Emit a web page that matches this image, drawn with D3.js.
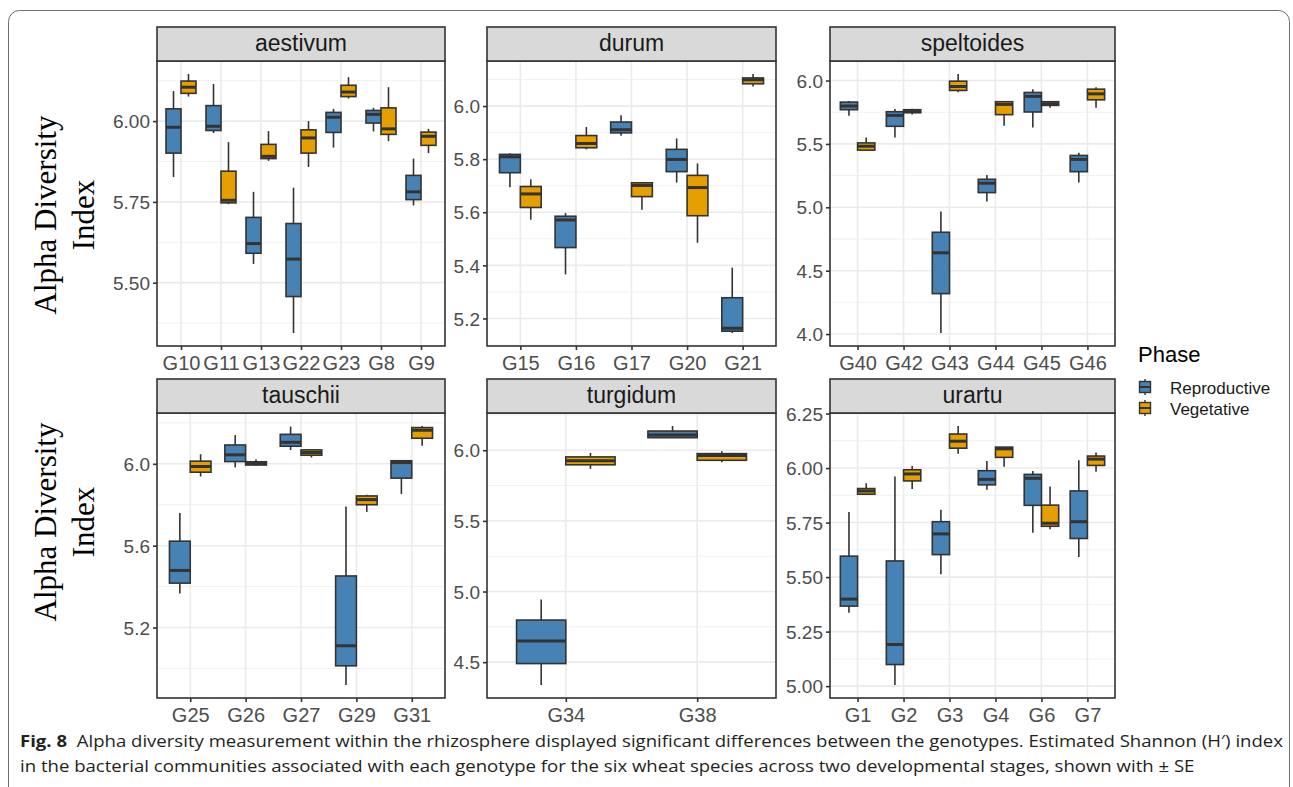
<!DOCTYPE html>
<html>
<head>
    <meta charset="utf-8">
    <title>Alpha diversity by genotype</title>
    <script src="https://d3js.org/d3.v7.min.js"></script>
    <style>
        body { margin: 0; background: #fff; }
        svg { display: block; }
    </style>
</head>
<body>
<svg id="chart" width="1293" height="787"></svg>

<script>
    // each box: [lower whisker, q1, median, q3, upper whisker]
    var aestivumGenotypes = ["G10", "G11", "G13", "G22", "G23", "G8", "G9"];
    var aestivumRep = [[5.827, 5.901, 5.981, 6.038, 6.093], [5.963, 5.971, 5.984, 6.048, 6.115], [5.558, 5.591, 5.621, 5.702, 5.781],
        [5.344, 5.457, 5.573, 5.683, 5.794], [5.918, 5.965, 6.012, 6.027, 6.038], [5.968, 5.994, 6.021, 6.033, 6.041], [5.739, 5.757, 5.781, 5.832, 5.884]];
    var aestivumVeg = [[6.076, 6.086, 6.105, 6.124, 6.146], [5.743, 5.747, 5.755, 5.845, 5.935], [5.877, 5.884, 5.891, 5.928, 5.969],
        [5.858, 5.901, 5.948, 5.973, 6.000], [6.070, 6.076, 6.090, 6.111, 6.136], [5.938, 5.959, 5.976, 6.041, 6.105], [5.901, 5.925, 5.953, 5.966, 5.976]];
    var aestivumTicks = [5.5, 5.75, 6.0];

    var durumGenotypes = ["G15", "G16", "G17", "G20", "G21"];
    var durumRep = [[5.694, 5.749, 5.809, 5.818, 5.822], [5.366, 5.467, 5.571, 5.585, 5.597], [5.888, 5.899, 5.911, 5.940, 5.965],
        [5.712, 5.753, 5.799, 5.837, 5.878], [5.145, 5.152, 5.163, 5.278, 5.391]];
    var durumVeg = [[5.572, 5.618, 5.669, 5.697, 5.724], [5.837, 5.843, 5.859, 5.889, 5.921], [5.609, 5.659, 5.701, 5.711, 5.712],
        [5.485, 5.587, 5.693, 5.739, 5.784], [6.074, 6.084, 6.099, 6.106, 6.121]];
    var durumTicks = [5.2, 5.4, 5.6, 5.8, 6.0];

    var speltoidesGenotypes = ["G40", "G42", "G43", "G44", "G45", "G46"];
    var speltoidesRep = [[5.723, 5.770, 5.799, 5.830, 5.838], [5.550, 5.639, 5.725, 5.754, 5.775], [4.008, 4.319, 4.641, 4.803, 4.967],
        [5.046, 5.116, 5.190, 5.221, 5.255], [5.629, 5.752, 5.875, 5.906, 5.932], [5.195, 5.281, 5.378, 5.409, 5.430]];
    var speltoidesVeg = [[5.451, 5.451, 5.482, 5.508, 5.550], [5.733, 5.746, 5.759, 5.770, 5.778], [5.908, 5.922, 5.953, 5.995, 6.052],
        [5.644, 5.731, 5.812, 5.833, 5.838], [5.786, 5.804, 5.817, 5.833, 5.833], [5.786, 5.848, 5.895, 5.932, 5.948]];
    var speltoidesTicks = [4.0, 4.5, 5.0, 5.5, 6.0];

    var tauschiiGenotypes = ["G25", "G26", "G27", "G29", "G31"];
    var tauschiiRep = [[5.366, 5.417, 5.479, 5.622, 5.760], [5.982, 6.011, 6.044, 6.092, 6.141], [6.067, 6.086, 6.105, 6.144, 6.182],
        [4.919, 5.013, 5.111, 5.452, 5.792], [5.852, 5.930, 6.006, 6.015, 6.015]];
    var tauschiiVeg = [[5.938, 5.959, 5.987, 6.013, 6.047], [5.989, 5.994, 6.002, 6.010, 6.021], [6.031, 6.042, 6.055, 6.068, 6.071],
        [5.765, 5.800, 5.825, 5.843, 5.849], [6.088, 6.125, 6.164, 6.177, 6.185]];
    var tauschiiTicks = [5.2, 5.6, 6.0];

    var turgidumGenotypes = ["G34", "G38"];
    var turgidumRep = [[4.338, 4.490, 4.650, 4.798, 4.944], [6.089, 6.089, 6.108, 6.136, 6.172]];
    var turgidumVeg = [[5.868, 5.897, 5.925, 5.953, 5.981], [5.915, 5.929, 5.962, 5.976, 5.993]];
    var turgidumTicks = [4.5, 5.0, 5.5, 6.0];

    var urartuGenotypes = ["G1", "G2", "G3", "G4", "G6", "G7"];
    var urartuRep = [[5.337, 5.367, 5.399, 5.596, 5.798], [5.005, 5.099, 5.191, 5.574, 5.961], [5.513, 5.603, 5.698, 5.754, 5.809],
        [5.900, 5.923, 5.948, 5.988, 6.032], [5.703, 5.829, 5.953, 5.971, 5.986], [5.592, 5.677, 5.754, 5.895, 6.036]];
    var urartuVeg = [[5.880, 5.880, 5.895, 5.906, 5.930], [5.904, 5.941, 5.973, 5.992, 6.009], [6.065, 6.091, 6.123, 6.156, 6.193],
        [6.006, 6.049, 6.088, 6.096, 6.096], [5.719, 5.733, 5.747, 5.830, 5.915], [5.983, 6.012, 6.041, 6.055, 6.071]];
    var urartuTicks = [5.0, 5.25, 5.5, 5.75, 6.0, 6.25];

    var phases = ["Reproductive", "Vegetative"];
    var phaseColors = ["#4682B4", "#E69F00"];

    var panels = [
        {name: "aestivum", genotypes: aestivumGenotypes, rep: aestivumRep, veg: aestivumVeg, ticks: aestivumTicks, fmt: ".2f"},
        {name: "durum", genotypes: durumGenotypes, rep: durumRep, veg: durumVeg, ticks: durumTicks, fmt: ".1f"},
        {name: "speltoides", genotypes: speltoidesGenotypes, rep: speltoidesRep, veg: speltoidesVeg, ticks: speltoidesTicks, fmt: ".1f"},
        {name: "tauschii", genotypes: tauschiiGenotypes, rep: tauschiiRep, veg: tauschiiVeg, ticks: tauschiiTicks, fmt: ".1f"},
        {name: "turgidum", genotypes: turgidumGenotypes, rep: turgidumRep, veg: turgidumVeg, ticks: turgidumTicks, fmt: ".1f"},
        {name: "urartu", genotypes: urartuGenotypes, rep: urartuRep, veg: urartuVeg, ticks: urartuTicks, fmt: ".2f"}
    ];

    var colsX = [[157, 445], [487, 776], [830, 1115]];
    var rowsY = [{strip: 27, top: 61, bottom: 346}, {strip: 379, top: 413, bottom: 698}];

    var svg = d3.select("#chart");
    var dark = "#333333";

    // outer frame
    svg.append("rect")
        .attr("x", 8.5).attr("y", 10.5)
        .attr("width", 1281).attr("height", 790)
        .attr("rx", 11)
        .style("fill", "none")
        .style("stroke", "#6e6e6e")
        .style("stroke-width", 1);

    panels.forEach(function(p, i) {
        var col = colsX[i % 3], row = rowsY[Math.floor(i / 3)];
        var x0 = col[0], x1 = col[1];

        var all = p.rep.concat(p.veg);
        var lo = d3.min(all, function(d) { return d[0]; });
        var hi = d3.max(all, function(d) { return d[4]; });
        var pad = (hi - lo) * 0.05;

        var y = d3.scaleLinear().domain([lo - pad, hi + pad]).range([row.bottom, row.top]);
        var x = d3.scalePoint().domain(p.genotypes).range([x0, x1]).padding(0.6);
        var step = x.step();

        var g = svg.append("g");

        // minor grid
        var st = p.ticks[1] - p.ticks[0];
        var minors = [p.ticks[0] - st / 2].concat(p.ticks.map(function(t) { return t + st / 2; }))
            .filter(function(v) { return v > y.domain()[0] && v < y.domain()[1]; });
        g.selectAll("line.minor").data(minors).enter().append("line")
            .attr("x1", x0).attr("x2", x1)
            .attr("y1", function(d) { return y(d); }).attr("y2", function(d) { return y(d); })
            .style("stroke", "#F1F1F1").style("stroke-width", 1);

        // major grid
        g.selectAll("line.major").data(p.ticks).enter().append("line")
            .attr("x1", x0).attr("x2", x1)
            .attr("y1", function(d) { return y(d); }).attr("y2", function(d) { return y(d); })
            .style("stroke", "#EBEBEB").style("stroke-width", 1.6);
        g.selectAll("line.vgrid").data(p.genotypes).enter().append("line")
            .attr("x1", function(d) { return x(d); }).attr("x2", function(d) { return x(d); })
            .attr("y1", row.top).attr("y2", row.bottom)
            .style("stroke", "#EBEBEB").style("stroke-width", 1.6);

        // boxes
        [p.rep, p.veg].forEach(function(series, s) {
            var bw = step * 0.375;
            var boxes = g.append("g").selectAll("g").data(series).enter().append("g");
            var left = function(d, j) { return x(p.genotypes[j]) - bw + s * bw; };
            boxes.append("line")
                .attr("x1", function(d, j) { return left(d, j) + bw / 2; })
                .attr("x2", function(d, j) { return left(d, j) + bw / 2; })
                .attr("y1", function(d) { return y(d[0]); })
                .attr("y2", function(d) { return y(d[4]); })
                .style("stroke", dark).style("stroke-width", 1.6);
            boxes.append("rect")
                .attr("x", left)
                .attr("width", bw)
                .attr("y", function(d) { return y(d[3]); })
                .attr("height", function(d) { return y(d[1]) - y(d[3]); })
                .style("fill", phaseColors[s])
                .style("stroke", dark).style("stroke-width", 1.6);
            boxes.append("line")
                .attr("x1", left)
                .attr("x2", function(d, j) { return left(d, j) + bw; })
                .attr("y1", function(d) { return y(d[2]); })
                .attr("y2", function(d) { return y(d[2]); })
                .style("stroke", dark).style("stroke-width", 3);
        });

        // panel border
        g.append("rect")
            .attr("x", x0).attr("y", row.top)
            .attr("width", x1 - x0).attr("height", row.bottom - row.top)
            .style("fill", "none").style("stroke", dark).style("stroke-width", 1.6);

        // strip
        g.append("rect")
            .attr("x", x0).attr("y", row.strip)
            .attr("width", x1 - x0).attr("height", row.top - row.strip)
            .style("fill", "#D9D9D9").style("stroke", dark).style("stroke-width", 1.6);
        g.append("text")
            .attr("x", (x0 + x1) / 2).attr("y", (row.strip + row.top) / 2 + 7)
            .attr("text-anchor", "middle")
            .style("font-family", "Liberation Sans, Arial, sans-serif")
            .style("font-size", "23px").style("fill", "#1A1A1A")
            .text(p.name);

        // axes
        var yAxis = d3.axisLeft(y).tickValues(p.ticks).tickFormat(d3.format(p.fmt)).tickSize(4).tickPadding(3);
        var ya = svg.append("g").attr("transform", "translate(" + x0 + ",0)").call(yAxis);
        var xAxis = d3.axisBottom(x).tickSize(4).tickPadding(4);
        var xa = svg.append("g").attr("transform", "translate(0," + row.bottom + ")").call(xAxis);
        [ya, xa].forEach(function(a) {
            a.select(".domain").remove();
            a.selectAll(".tick line").style("stroke", dark).style("stroke-width", 1.6);
            a.selectAll(".tick text")
                .style("font-family", "Liberation Sans, Arial, sans-serif")
                .style("fill", "#4D4D4D");
        });
        ya.selectAll(".tick text").style("font-size", "19px").attr("dy", "0.35em");
        xa.selectAll(".tick text").style("font-size", "20px").attr("dy", "0.78em");
    });

    // y axis titles
    [215, 522].forEach(function(cy) {
        var t = svg.append("text")
            .attr("transform", "translate(0," + cy + ") rotate(-90)")
            .attr("text-anchor", "middle")
            .style("font-family", "Liberation Serif, Times New Roman, serif")
            .style("font-size", "31px").style("fill", "#000");
        t.append("tspan").attr("x", 0).attr("y", 56).text("Alpha Diversity");
        t.append("tspan").attr("x", 0).attr("y", 94).text("Index");
    });

    // legend
    var legend = svg.append("g").attr("transform", "translate(1138,0)");
    legend.append("text")
        .attr("x", 0).attr("y", 362)
        .style("font-family", "Liberation Sans, Arial, sans-serif")
        .style("font-size", "22px").style("fill", "#000")
        .text("Phase");
    var keys = legend.selectAll("g.key").data(phases).enter().append("g")
        .attr("transform", function(d, i) { return "translate(0," + (387 + i * 21) + ")"; });
    keys.append("line")
        .attr("x1", 7).attr("x2", 7).attr("y1", -8).attr("y2", 8)
        .style("stroke", dark).style("stroke-width", 1.4);
    keys.append("rect")
        .attr("x", 1.5).attr("y", -5.5).attr("width", 11).attr("height", 11)
        .style("fill", function(d, i) { return phaseColors[i]; })
        .style("stroke", dark).style("stroke-width", 1.4);
    keys.append("line")
        .attr("x1", 1.5).attr("x2", 12.5).attr("y1", 0).attr("y2", 0)
        .style("stroke", dark).style("stroke-width", 2);
    keys.append("text")
        .attr("x", 32).attr("y", 6.5)
        .style("font-family", "Liberation Sans, Arial, sans-serif")
        .style("font-size", "17px").style("fill", "#1A1A1A")
        .text(function(d) { return d; });

    // caption: both lines share one horizontal squeeze so line 1 spans the frame
    var capFont = "Open Sans, Noto Sans, sans-serif";
    var c1 = svg.append("text")
        .attr("x", 20).attr("y", 747)
        .style("font-family", capFont).style("font-size", "16.5px").style("fill", "#231F20");
    c1.append("tspan").style("font-weight", "bold").text("Fig. 8");
    c1.append("tspan").text("\u00A0 Alpha diversity measurement within the rhizosphere displayed significant differences between the genotypes. Estimated Shannon (H\u2032) index");
    var c2 = svg.append("text")
        .attr("x", 20).attr("y", 772)
        .style("font-family", capFont).style("font-size", "16.5px").style("fill", "#231F20")
        .text("in the bacterial communities associated with each genotype for the six wheat species across two developmental stages, shown with \u00B1 SE");
    var squeeze = 1263 / c1.node().getComputedTextLength();
    var w2 = c2.node().getComputedTextLength() * squeeze;
    c1.attr("textLength", 1263).attr("lengthAdjust", "spacingAndGlyphs");
    c2.attr("textLength", w2).attr("lengthAdjust", "spacingAndGlyphs");
</script>
</body>
</html>
